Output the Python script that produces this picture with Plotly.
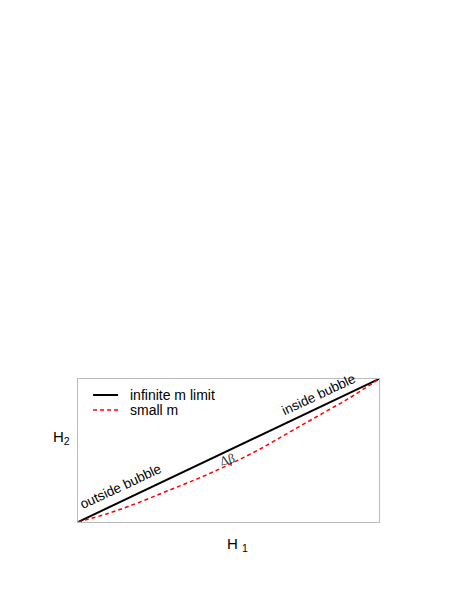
import plotly.graph_objects as go

# Data
h1 = [0.0, 0.1, 0.2, 0.3, 0.4, 0.5, 0.6, 0.7, 0.8, 0.9, 1.0]
h2_infinite = [0.0, 0.1, 0.2, 0.3, 0.4, 0.5, 0.6, 0.7, 0.8, 0.9, 1.0]
h2_small = [0.0, 0.06, 0.135, 0.22, 0.305, 0.40, 0.505, 0.625, 0.745, 0.865, 1.0]
series_names = ["infinite m limit", "small m"]
series_colors = ["black", "red"]
series_dash = ["solid", "4px,3px"]
series_width = [2, 1.5]

fig = go.Figure()
fig.add_trace(go.Scatter(x=h1, y=h2_infinite, mode="lines", name=series_names[0],
                         line=dict(color=series_colors[0], width=series_width[0])))
fig.add_trace(go.Scatter(x=h1, y=h2_small, mode="lines", name=series_names[1], line_shape="spline",
                         line=dict(color=series_colors[1], width=series_width[1], dash=series_dash[1])))

font = "Liberation Sans, Arial, sans-serif"
fig.update_layout(
    width=457, height=591,
    margin=dict(l=70, r=86, t=371, b=77),
    paper_bgcolor="white", plot_bgcolor="white",
    showlegend=False,
    xaxis=dict(range=[0, 1], showgrid=False, zeroline=False, showticklabels=False, ticks="",
               showline=True, mirror=True, linecolor="#bbbbbb", linewidth=1),
    yaxis=dict(range=[0, 1], showgrid=False, zeroline=False, showticklabels=False, ticks="",
               showline=True, mirror=True, linecolor="#bbbbbb", linewidth=1),
    font=dict(family=font),
)

# manual legend
leg_y = [0.888, 0.783]
for i, name in enumerate(series_names):
    fig.add_shape(type="line", xref="paper", yref="paper", x0=0.05, x1=0.133, y0=leg_y[i], y1=leg_y[i],
                  line=dict(color=series_colors[i], width=series_width[i], dash=series_dash[i]))
    fig.add_annotation(xref="paper", yref="paper", x=0.165, y=leg_y[i], text=name, showarrow=False,
                       xanchor="left", yanchor="middle", font=dict(family=font, size=14, color="black"))

ann = [
    dict(x=-0.02, y=0.59, text="H<sub>2</sub>", xanchor="right"),
    dict(x=0.53, y=-0.154, text="H <sub>1</sub>", xanchor="center"),
]
for a in ann:
    fig.add_annotation(xref="paper", yref="paper", showarrow=False, yanchor="middle",
                       font=dict(family=font, size=15, color="black"), **a)

fig.add_annotation(x=0.142, y=0.245, xref="x", yref="y", text="outside bubble", textangle=-25,
                   showarrow=False, font=dict(family=font, size=13.5, color="black"))
fig.add_annotation(x=0.80, y=0.89, xref="x", yref="y", text="inside bubble", textangle=-25,
                   showarrow=False, font=dict(family=font, size=13.5, color="black"))
fig.add_annotation(x=0.495, y=0.434, xref="x", yref="y", text="Δβ", textangle=-15,
                   showarrow=False, font=dict(family="Liberation Serif, Times New Roman, serif", size=13, color="#333333"))

fig.write_html("out.html")
